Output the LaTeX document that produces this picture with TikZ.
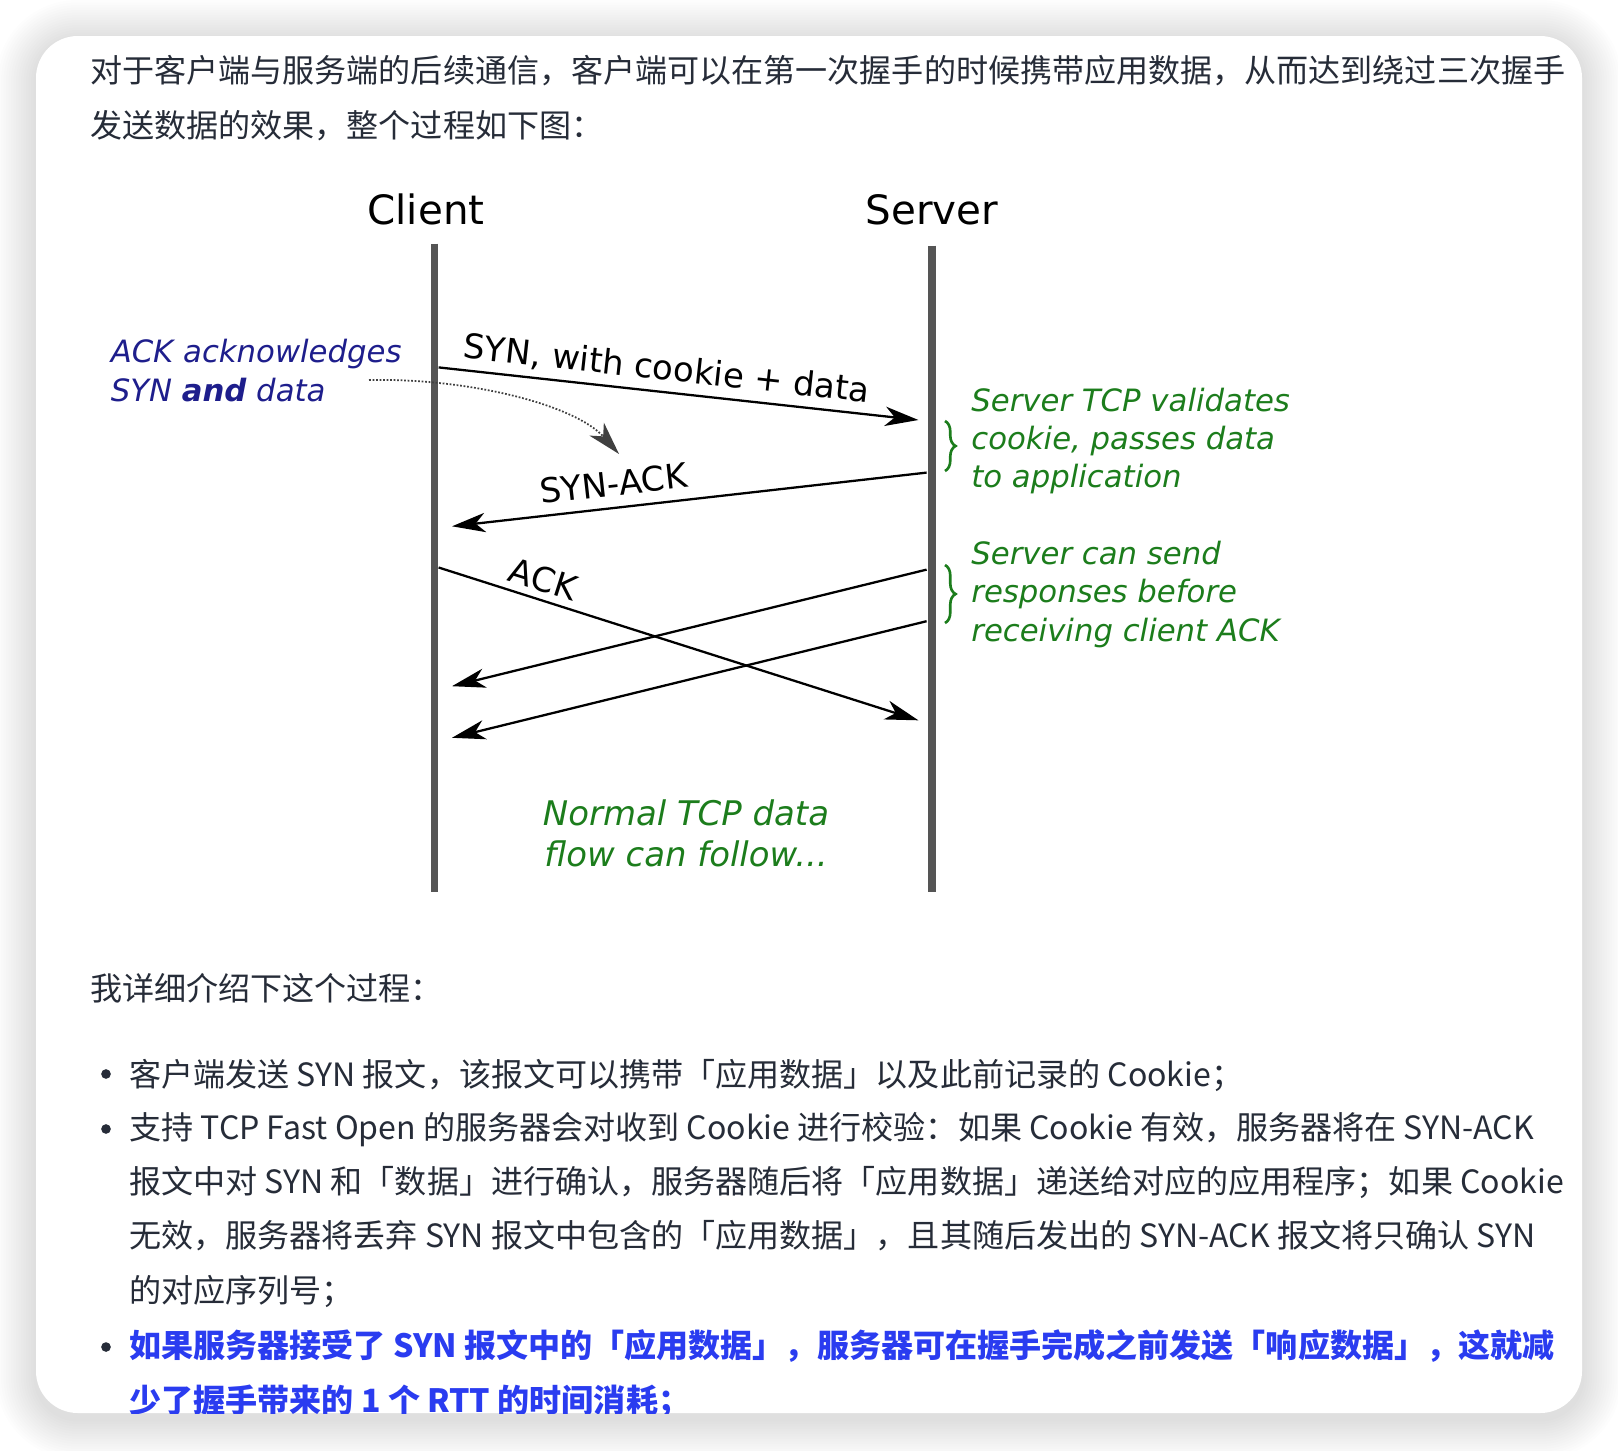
\documentclass[tikz,border=0pt]{standalone}
\usepackage{fontspec}
\setmainfont{DejaVu Sans}[
  ItalicFont={DejaVu Sans Oblique},
  BoldItalicFont={DejaVu Sans Bold Oblique}]
\newfontfamily\cjk{Noto Sans CJK SC}
\usetikzlibrary{arrows.meta,decorations.pathreplacing}

\definecolor{bodytext}{HTML}{262C38}
\definecolor{linkblue}{HTML}{2A3CF0}
\definecolor{notenavy}{HTML}{1E1E8C}
\definecolor{notegreen}{HTML}{1C7D1C}
\definecolor{lifegray}{HTML}{555555}

\begin{document}
\begin{tikzpicture}[
  x=0.02cm, y=-0.02cm,
  >={Stealth[length=19pt,width=11pt,inset=5.5pt]},
  body/.style={
    font=\cjk\fontsize{18.25}{30.8}\selectfont,
    text=bodytext,
    anchor=base west,
    inner sep=0pt,
    align=left
  },
  bulletdot/.style={circle, fill=bodytext, inner sep=0pt, minimum size=5.5pt},
  actor/.style={font=\fontsize{23}{27}\selectfont, anchor=base, inner sep=0pt},
  lifeline/.style={draw=lifegray, line width=4.5pt},
  msg/.style={->, line width=1.3pt, draw=black},
  msglabel/.style={font=\fontsize{19.3}{23}\selectfont, inner sep=0pt},
  note/.style={
    font=\itshape\fontsize{17.5}{21.8}\selectfont,
    align=left,
    anchor=west,
    inner sep=0pt
  },
  hint/.style={->, line width=1pt, draw=black!75, dash pattern=on 1pt off 1pt},
  curly/.style={
    decorate,
    decoration={brace, amplitude=6pt},
    draw=notegreen,
    line width=1.5pt
  }
]

% Page and card with its soft shadow.
\useasboundingbox (0,0) rectangle (1618,1450);
\fill[white] (0,0) rectangle (1618,1450);
\foreach \s in {1,...,16}{
  \pgfmathsetmacro{\rc}{23.8+1.4*\s}
  \fill[black, opacity=0.009, rounded corners=\rc pt]
    (36-2.5*\s,40-2.5*\s) rectangle (1582+2.5*\s,1419+2.5*\s);
}
\fill[white, rounded corners=23.8pt] (36,36) rectangle (1582,1413);

\begin{scope}
\clip[rounded corners=23.8pt] (36,36) rectangle (1582,1413);

% Text above the diagram (base = last line).
\node[body] (intro) at (90,137)
  {对于客户端与服务端的后续通信，客户端可以在第一次握手的时候携带应用数据，从而达到绕过三次握手\\
   发送数据的效果，整个过程如下图：};

% Lifelines.
\node[actor] (client) at (426,224) {Client};
\node[actor] (server) at (932,224) {Server};
\coordinate (ctop) at (434.5,243.5);
\coordinate (cbot) at (434.5,891.5);
\coordinate (stop) at (932,245.5);
\coordinate (sbot) at (932,891.5);
\draw[lifeline] (ctop) -- (cbot);
\draw[lifeline] (stop) -- (sbot);

% Handshake messages.
\coordinate (synout) at (438.6,367.4);
\coordinate (synin) at (918.4,420);
\coordinate (synackout) at (926.6,472.6);
\coordinate (synackin) at (452,526.3);
\coordinate (ackout) at (438.6,567.5);
\coordinate (ackin) at (918.4,720.3);
\coordinate (respaout) at (926.6,569.6);
\coordinate (respain) at (452,686.2);
\coordinate (respbout) at (926.6,621.2);
\coordinate (respbin) at (452,737.8);

\draw[msg] (synout) -- node[msglabel, pos=0.47, sloped, above=4pt] (synlabel)
  {SYN, with cookie + data} (synin);
\draw[msg] (synackout) -- node[msglabel, pos=0.654, sloped, above=6pt] (synacklabel)
  {SYN-ACK} (synackin);
\draw[msg] (ackout) -- node[msglabel, pos=0.205, sloped, above=4pt] (acklabel)
  {ACK} (ackin);
\draw[msg] (respaout) -- (respain);
\draw[msg] (respbout) -- (respbin);

% Notes.
\node[note, text=notenavy] (acknote) at (110.4,370.5)
  {ACK acknowledges\\SYN \textbf{and} data};
\coordinate (hintfrom) at (369,380);
\coordinate (hintto) at (619,454);
\draw[hint] (hintfrom) .. controls (470,378) and (575,405) .. (hintto);

\coordinate (bracea1) at (945,421);
\coordinate (bracea2) at (945,471);
\coordinate (braceb1) at (945,565);
\coordinate (braceb2) at (945,623);
\draw[curly] (bracea1) -- (bracea2);
\draw[curly] (braceb1) -- (braceb2);

\node[note, text=notegreen] (validate) at (971,441)
  {Server TCP validates\\cookie, passes data\\to application};
\node[note, text=notegreen] (early) at (971,594.5)
  {Server can send\\responses before\\receiving client ACK};
\node[note, text=notegreen, anchor=center, align=center,
  font=\itshape\fontsize{19.3}{23.5}\selectfont] (follow) at (686,833.5)
  {Normal TCP data\\flow can follow...};

% Text below the diagram.
\node[body] (lead) at (90,1000) {我详细介绍下这个过程：};

\node[bulletdot] (dota) at (106,1074) {};
\node[body] (stepa) at (129,1086)
  {客户端发送 SYN 报文，该报文可以携带「应用数据」以及此前记录的 Cookie；};

\node[bulletdot] (dotb) at (106,1129) {};
\node[body] (stepb) at (129,1302)
  {支持 TCP Fast Open 的服务器会对收到 Cookie 进行校验：如果 Cookie 有效，服务器将在 SYN-ACK\\
   报文中对 SYN 和「数据」进行确认，服务器随后将「应用数据」递送给对应的应用程序；如果 Cookie\\
   无效，服务器将丢弃 SYN 报文中包含的「应用数据」，且其随后发出的 SYN-ACK 报文将只确认 SYN\\
   的对应序列号；};

\node[bulletdot] (dotc) at (106,1347) {};
\node[body, text=linkblue, font=\cjk\bfseries\fontsize{18.25}{30.8}\selectfont] (stepc) at (129,1412)
  {如果服务器接受了 SYN 报文中的「应用数据」，服务器可在握手完成之前发送「响应数据」，这就减\\
   少了握手带来的 1 个 RTT 的时间消耗；};
\end{scope}

\end{tikzpicture}
\end{document}
